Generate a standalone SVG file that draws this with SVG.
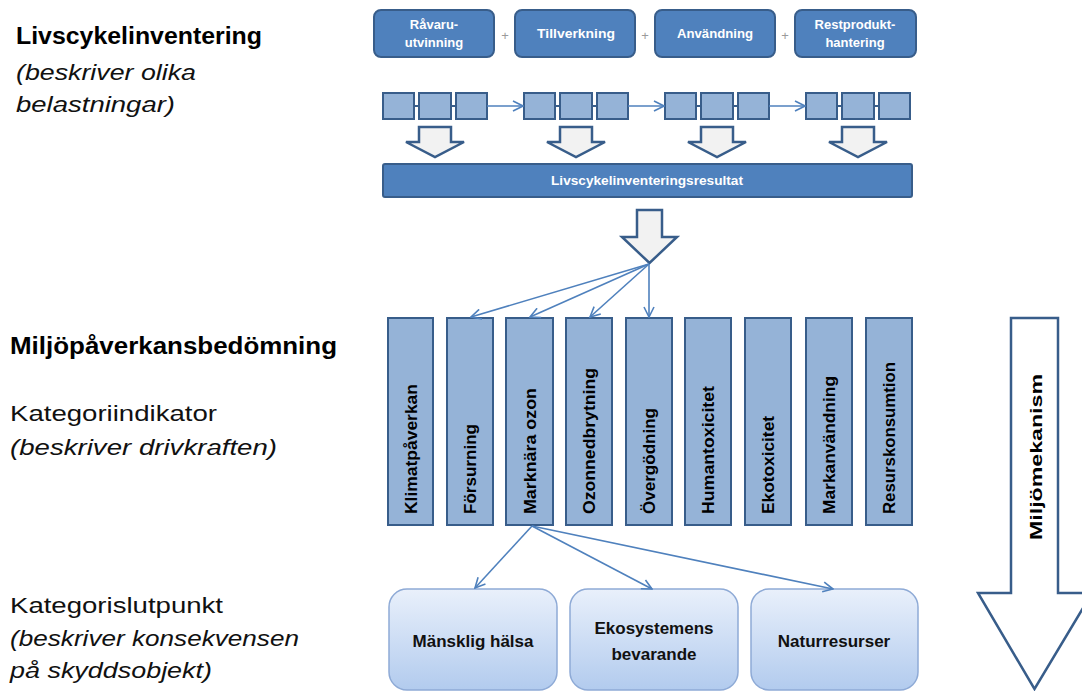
<svg xmlns="http://www.w3.org/2000/svg" width="1082" height="691" viewBox="0 0 1082 691">
<defs>
<style>
.hd{font-family:"Liberation Sans",Arial,sans-serif;font-weight:bold;font-size:23px;fill:#000}
.nm{font-family:"Liberation Sans",Arial,sans-serif;font-size:22px;fill:#111}
.it{font-family:"Liberation Sans",Arial,sans-serif;font-style:italic;font-size:22px;fill:#111}
.stage{fill:#4f81bd;stroke:#385d8a;stroke-width:2}
.wt{font-family:"Liberation Sans",Arial,sans-serif;font-weight:bold;font-size:13px;fill:#fff}
.sq{fill:#95b3d7;stroke:#385d8a;stroke-width:2}
.blk{fill:#f2f2f2;stroke:#385d8a;stroke-width:2.5;stroke-linejoin:miter}
.ind{fill:#95b3d7;stroke:#385d8a;stroke-width:2}
.vt{font-family:"Liberation Sans",Arial,sans-serif;font-weight:bold;font-size:16px;fill:#000}
.ep{fill:url(#g);stroke:#8eaad6;stroke-width:1.5}
.et{font-family:"Liberation Sans",Arial,sans-serif;font-weight:bold;font-size:17px;fill:#111}
.con{stroke:#4f81bd;stroke-width:1.6;fill:none}
.plus{font-family:"Liberation Sans",Arial,sans-serif;font-size:13px;fill:#9a9a9a}
</style>
<linearGradient id="g" x1="0" y1="0" x2="0" y2="1">
<stop offset="0" stop-color="#e9f0fb"/>
<stop offset="1" stop-color="#b2cbee"/>
</linearGradient>
<marker id="ah" viewBox="0 0 12 12" refX="11" refY="6" markerWidth="12" markerHeight="12" markerUnits="userSpaceOnUse" orient="auto">
<path d="M1,1 L11,6 L1,11" fill="none" stroke="#4f81bd" stroke-width="1.6"/>
</marker>
</defs>

<g id="left-labels">
<text class="hd" x="16" y="44" textLength="246" lengthAdjust="spacingAndGlyphs">Livscykelinventering</text>
<text class="it" x="16" y="80" textLength="180" lengthAdjust="spacingAndGlyphs">(beskriver olika</text>
<text class="it" x="16" y="112" textLength="159" lengthAdjust="spacingAndGlyphs">belastningar)</text>
<text class="hd" x="10" y="354" textLength="327" lengthAdjust="spacingAndGlyphs">Miljöpåverkansbedömning</text>
<text class="nm" x="10" y="421" textLength="207" lengthAdjust="spacingAndGlyphs">Kategoriindikator</text>
<text class="it" x="10" y="455" textLength="267" lengthAdjust="spacingAndGlyphs">(beskriver drivkraften)</text>
<text class="nm" x="10" y="613" textLength="213" lengthAdjust="spacingAndGlyphs">Kategorislutpunkt</text>
<text class="it" x="10" y="646" textLength="289" lengthAdjust="spacingAndGlyphs">(beskriver konsekvensen</text>
<text class="it" x="10" y="678" textLength="202" lengthAdjust="spacingAndGlyphs">på skyddsobjekt)</text>
</g>

<g id="stage-1">
<rect class="stage" x="374" y="10" width="120" height="47" rx="7"/>
<text class="wt" x="434" y="29" text-anchor="middle">Råvaru-</text>
<text class="wt" x="434" y="47" text-anchor="middle">utvinning</text>
</g>
<g id="stage-2">
<rect class="stage" x="515" y="10" width="120" height="47" rx="7"/>
<text class="wt" x="576" y="38" text-anchor="middle" textLength="78" lengthAdjust="spacingAndGlyphs">Tillverkning</text>
</g>
<g id="stage-3">
<rect class="stage" x="655" y="10" width="120" height="47" rx="7"/>
<text class="wt" x="715" y="38" text-anchor="middle" textLength="76" lengthAdjust="spacingAndGlyphs">Användning</text>
</g>
<g id="stage-4">
<rect class="stage" x="795" y="10" width="121" height="47" rx="7"/>
<text class="wt" x="855" y="29" text-anchor="middle">Restprodukt-</text>
<text class="wt" x="855" y="47" text-anchor="middle">hantering</text>
</g>
<g id="plus-signs">
<text class="plus" x="505" y="40" text-anchor="middle">+</text>
<text class="plus" x="645" y="40" text-anchor="middle">+</text>
<text class="plus" x="785" y="40" text-anchor="middle">+</text>
</g>

<g id="inventory-1">
<line x1="414" y1="106" x2="419" y2="106" stroke="#385d8a" stroke-width="2"/>
<line x1="451" y1="106" x2="456" y2="106" stroke="#385d8a" stroke-width="2"/>
<rect class="sq" x="383" y="93" width="31" height="26"/>
<rect class="sq" x="419" y="93" width="32" height="26"/>
<rect class="sq" x="456" y="93" width="31" height="26"/>
</g>
<g id="inventory-2">
<line x1="555" y1="106" x2="560" y2="106" stroke="#385d8a" stroke-width="2"/>
<line x1="592" y1="106" x2="597" y2="106" stroke="#385d8a" stroke-width="2"/>
<rect class="sq" x="524" y="93" width="31" height="26"/>
<rect class="sq" x="560" y="93" width="32" height="26"/>
<rect class="sq" x="597" y="93" width="31" height="26"/>
</g>
<g id="inventory-3">
<line x1="696" y1="106" x2="701" y2="106" stroke="#385d8a" stroke-width="2"/>
<line x1="733" y1="106" x2="738" y2="106" stroke="#385d8a" stroke-width="2"/>
<rect class="sq" x="665" y="93" width="31" height="26"/>
<rect class="sq" x="701" y="93" width="32" height="26"/>
<rect class="sq" x="738" y="93" width="31" height="26"/>
</g>
<g id="inventory-4">
<line x1="837" y1="106" x2="842" y2="106" stroke="#385d8a" stroke-width="2"/>
<line x1="874" y1="106" x2="879" y2="106" stroke="#385d8a" stroke-width="2"/>
<rect class="sq" x="806" y="93" width="31" height="26"/>
<rect class="sq" x="842" y="93" width="32" height="26"/>
<rect class="sq" x="879" y="93" width="31" height="26"/>
</g>

<g id="block-arrows">
<polygon class="blk" points="419,127 451,127 451,142 464,142 435,157 406,142 419,142"/>
<polygon class="blk" points="560,127 592,127 592,142 605,142 576,157 547,142 560,142"/>
<polygon class="blk" points="701,127 733,127 733,142 746,142 717,157 688,142 701,142"/>
<polygon class="blk" points="842,127 874,127 874,142 887,142 858,157 829,142 842,142"/>
</g>

<g id="result-bar">
<rect class="stage" x="383" y="164" width="529" height="33" rx="2"/>
<text class="wt" x="647" y="185" text-anchor="middle" textLength="192" lengthAdjust="spacingAndGlyphs">Livscykelinventeringsresultat</text>
</g>

<g id="main-arrow">
<polygon class="blk" points="637,210 662,210 662,237 677,237 649.5,263 622,237 637,237"/>
</g>

<g id="ind-1"><rect class="ind" x="388" y="318" width="45" height="207"/><text class="vt" transform="translate(416.5,514) rotate(-90)" textLength="130" lengthAdjust="spacingAndGlyphs">Klimatpåverkan</text></g>
<g id="ind-2"><rect class="ind" x="447" y="318" width="46" height="207"/><text class="vt" transform="translate(476,514) rotate(-90)" textLength="90" lengthAdjust="spacingAndGlyphs">Försurning</text></g>
<g id="ind-3"><rect class="ind" x="506" y="318" width="47" height="207"/><text class="vt" transform="translate(535.5,514) rotate(-90)" textLength="126" lengthAdjust="spacingAndGlyphs">Marknära ozon</text></g>
<g id="ind-4"><rect class="ind" x="566" y="318" width="46" height="207"/><text class="vt" transform="translate(595,514) rotate(-90)" textLength="146" lengthAdjust="spacingAndGlyphs">Ozonnedbrytning</text></g>
<g id="ind-5"><rect class="ind" x="626" y="318" width="46" height="207"/><text class="vt" transform="translate(655,514) rotate(-90)" textLength="106" lengthAdjust="spacingAndGlyphs">Övergödning</text></g>
<g id="ind-6"><rect class="ind" x="685" y="318" width="46" height="207"/><text class="vt" transform="translate(714,514) rotate(-90)" textLength="128" lengthAdjust="spacingAndGlyphs">Humantoxicitet</text></g>
<g id="ind-7"><rect class="ind" x="745" y="318" width="46" height="207"/><text class="vt" transform="translate(774,514) rotate(-90)" textLength="98" lengthAdjust="spacingAndGlyphs">Ekotoxicitet</text></g>
<g id="ind-8"><rect class="ind" x="806" y="318" width="46" height="207"/><text class="vt" transform="translate(835,514) rotate(-90)" textLength="138" lengthAdjust="spacingAndGlyphs">Markanvändning</text></g>
<g id="ind-9"><rect class="ind" x="866" y="318" width="46" height="207"/><text class="vt" transform="translate(895,514) rotate(-90)" textLength="152" lengthAdjust="spacingAndGlyphs">Resurskonsumtion</text></g>

<g id="endpoint-1"><rect class="ep" x="389" y="589" width="168" height="101" rx="18"/><text class="et" x="473" y="647" text-anchor="middle">Mänsklig hälsa</text></g>
<g id="endpoint-2"><rect class="ep" x="570" y="589" width="168" height="101" rx="18"/><text class="et" x="654" y="634" text-anchor="middle">Ekosystemens</text><text class="et" x="654" y="660" text-anchor="middle">bevarande</text></g>
<g id="endpoint-3"><rect class="ep" x="751" y="589" width="167" height="101" rx="18"/><text class="et" x="834" y="647" text-anchor="middle">Naturresurser</text></g>

<g id="mekanism">
<polygon fill="#ffffff" stroke="#385d8a" stroke-width="2.5" points="1011,318 1058,318 1058,593 1092,593 1034.5,689 978,593 1011,593"/>
<text class="vt" font-size="19" transform="translate(1041.5,540) rotate(-90)" textLength="166" lengthAdjust="spacingAndGlyphs">Miljömekanism</text>
</g>

<g id="connectors">
<line class="con" x1="487" y1="106" x2="523" y2="106" marker-end="url(#ah)"/>
<line class="con" x1="628" y1="106" x2="664" y2="106" marker-end="url(#ah)"/>
<line class="con" x1="769" y1="106" x2="805" y2="106" marker-end="url(#ah)"/>
<line class="con" x1="649" y1="264" x2="471" y2="317" marker-end="url(#ah)"/>
<line class="con" x1="649" y1="264" x2="530" y2="317" marker-end="url(#ah)"/>
<line class="con" x1="649" y1="264" x2="590" y2="317" marker-end="url(#ah)"/>
<line class="con" x1="649" y1="264" x2="649" y2="317" marker-end="url(#ah)"/>
<line class="con" x1="532" y1="526" x2="475" y2="588" marker-end="url(#ah)"/>
<line class="con" x1="532" y1="526" x2="652" y2="589" marker-end="url(#ah)"/>
<line class="con" x1="532" y1="526" x2="833" y2="589" marker-end="url(#ah)"/>
</g>
</svg>
